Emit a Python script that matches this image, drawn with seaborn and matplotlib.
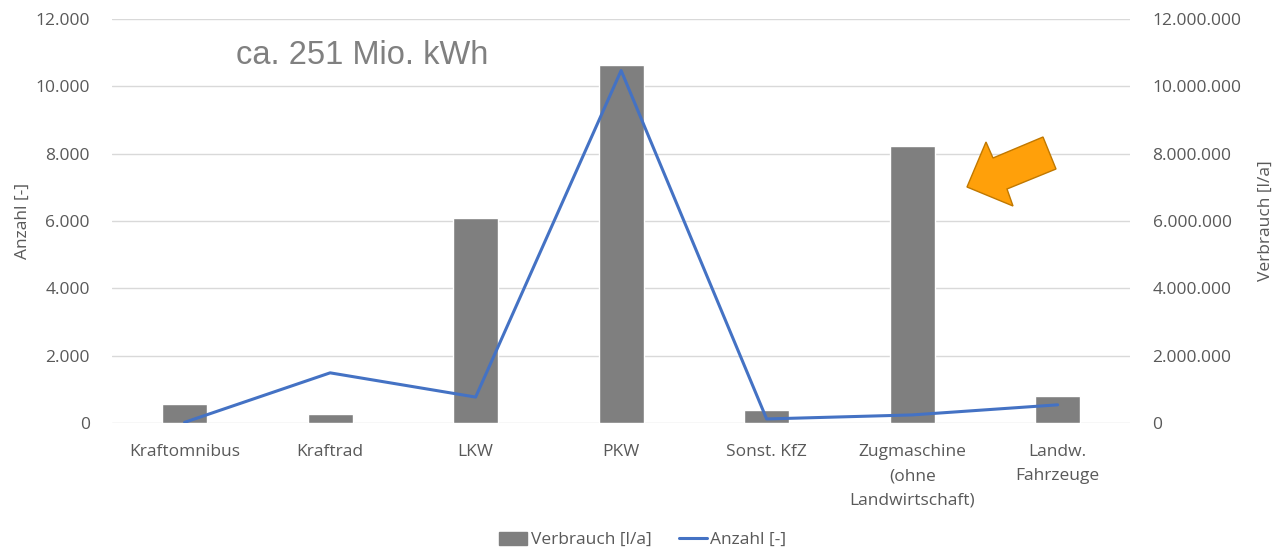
import numpy as np
import pandas as pd
import matplotlib
matplotlib.use("Agg")
import matplotlib.pyplot as plt
import seaborn as sns
from matplotlib.patches import Polygon, Patch
from matplotlib.lines import Line2D
from matplotlib.ticker import FuncFormatter, MultipleLocator

# Fahrzeugklassen
categories = ["Kraftomnibus", "Kraftrad", "LKW", "PKW", "Sonst. KfZ",
              "Zugmaschine\n(ohne\nLandwirtschaft)", "Landw.\nFahrzeuge"]
# Jahresverbrauch in Litern
verbrauch = [550000, 260000, 6090000, 10620000, 400000, 8240000, 800000]
# Fahrzeuganzahl
anzahl = [20, 1490, 770, 10470, 120, 240, 540]

annotation = "ca. 251 Mio. kWh"
label_left = "Anzahl [-]"
label_right = "Verbrauch [l/a]"
legend_bar = "Verbrauch [l/a]"
legend_line = "Anzahl [-]"

BAR = "#7f7f7f"
LINE = "#4472c4"
TXT = "#595959"
GRID = "#d9d9d9"
FS = 12.5

sns.set_theme(style="white")
plt.rcParams["font.family"] = ["Open Sans", "DejaVu Sans"]

df = pd.DataFrame({"kat": categories, "verbrauch": verbrauch,
                   "anzahl": anzahl, "pos": np.arange(len(categories))})

fig = plt.figure(figsize=(12.86, 5.51), dpi=100)
ax = fig.add_axes([0.087, 0.2323, 0.792, 0.7332])
ax2 = ax.twinx()

# Balken: Verbrauch (rechte Achse)
sns.barplot(data=df, x="kat", y="verbrauch", color=BAR, width=0.31,
            saturation=1, ax=ax, zorder=2)
ax.set_ylim(0, 12000000)
ax.yaxis.set_major_locator(MultipleLocator(2000000))
ax.grid(axis="y", color=GRID, linewidth=1, zorder=0)
ax.set_axisbelow(True)
ax.set_xlim(-0.5, len(categories) - 0.5)

fmt = lambda v, p: f"{int(round(v)):,}".replace(",", ".")
ax.yaxis.set_major_formatter(FuncFormatter(fmt))
ax.tick_params(axis="x", length=0, labelsize=FS, labelcolor=TXT, pad=15)
for lbl in ax.get_xticklabels():
    lbl.set_linespacing(1.7)
    lbl.set_verticalalignment("top")
ax.set_xlabel("")
for s in ax.spines.values():
    s.set_visible(False)

# Linie: Anzahl (linke Achse)
sns.lineplot(data=df, x="pos", y="anzahl", color=LINE, linewidth=2.2, ax=ax2,
             zorder=3)
ax2.set_ylim(0, 12000)
ax2.yaxis.set_major_locator(MultipleLocator(2000))
ax2.yaxis.set_major_formatter(FuncFormatter(fmt))
ax2.set_xlabel("")
for s in ax2.spines.values():
    s.set_visible(False)

# Achsenseiten tauschen: Anzahl links, Verbrauch rechts
ax.yaxis.tick_right()
ax.yaxis.set_label_position("right")
ax.tick_params(axis="y", length=0, labelsize=FS, labelcolor=TXT, pad=16)
ax.set_ylabel(label_right, fontsize=FS, color=TXT, labelpad=12)
ax2.yaxis.tick_left()
ax2.yaxis.set_label_position("left")
ax2.tick_params(axis="y", length=0, labelsize=FS, labelcolor=TXT, pad=16)
ax2.set_ylabel(label_left, fontsize=FS, color=TXT, labelpad=3)

# Hinweistext
fig.text(236 / 1286, 1 - 56 / 551, annotation, fontsize=23.5, color="#808080",
         family="Liberation Sans", va="center", ha="left")

# Pfeil
W, H = 1286, 551
pts = [(967, 187), (986, 142), (993, 158), (1043, 137), (1056, 169),
       (1007, 189), (1013, 206)]
arrow = Polygon([(x / W, 1 - y / H) for x, y in pts], closed=True,
                facecolor="#ffa00a", edgecolor="#c07800", linewidth=1,
                transform=fig.transFigure, zorder=5)
fig.patches.append(arrow)

# Legende
handles = [Patch(facecolor=BAR, edgecolor=BAR),
           Line2D([0], [0], color=LINE, linewidth=2.2)]
fig.legend(handles, [legend_bar, legend_line], loc="center",
           bbox_to_anchor=(0.5, 1 - 540 / 551), ncol=2, frameon=False,
           fontsize=FS, labelcolor=TXT, handlelength=1.6, handletextpad=0.2,
           columnspacing=1.6, handleheight=0.8)

fig.savefig("out.png", dpi=100)
